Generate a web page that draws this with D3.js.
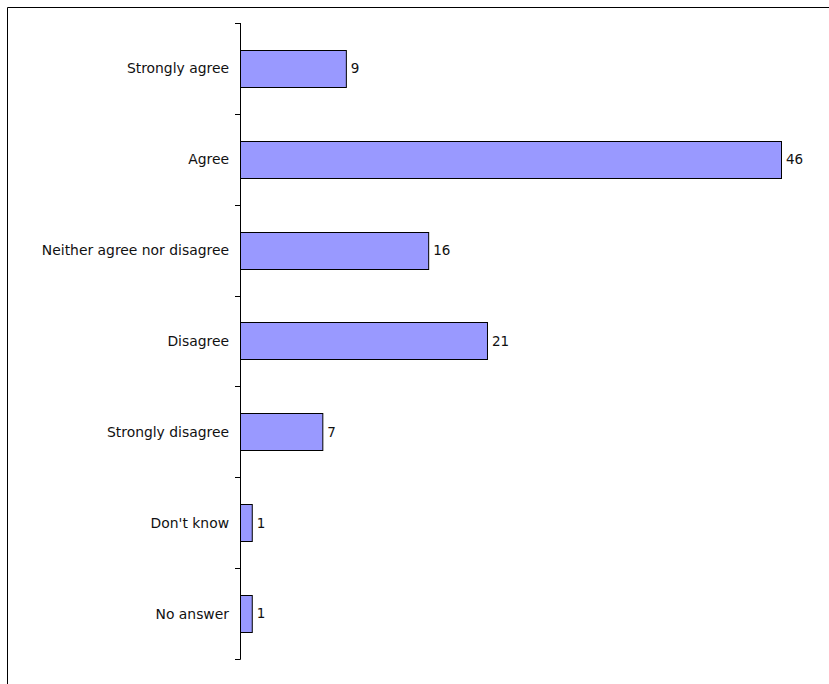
<!DOCTYPE html>
<html><head><meta charset="utf-8">
<script src="https://cdn.jsdelivr.net/npm/d3@7/dist/d3.min.js"></script>
<style>body{margin:0;background:#fff}svg{display:block}</style>
</head><body>
<script>
const categories = ["Strongly agree","Agree","Neither agree nor disagree","Disagree","Strongly disagree","Don't know","No answer"];
const values = [9,46,16,21,7,1,1];

const W = 829, H = 684;
const svg = d3.select("body").append("svg").attr("width", W).attr("height", H);
// frame
svg.append("path").attr("d", `M7.5,${H} V7.5 H${W}`).attr("fill","none").attr("stroke","#000").attr("stroke-width",1);

const x0 = 240, y0 = 23, y1 = 659;
const x = d3.scaleLinear().domain([0,46]).range([x0, 781]);
const y = d3.scaleBand().domain(categories).range([y0, y1]).paddingInner(0.59).paddingOuter(0.295);

const font = "'DejaVu Sans', sans-serif";
const g = svg.append("g");
// bars
g.selectAll("rect").data(categories).join("rect")
  .attr("x", x0 + 0.5)
  .attr("y", d => Math.round(y(d)) + 0.5)
  .attr("width", (d,i) => x(values[i]) - x0)
  .attr("height", Math.round(y.bandwidth()))
  .attr("fill", "#9999FF").attr("stroke", "#000").attr("stroke-width", 1);

// value labels
g.selectAll("text.v").data(categories).join("text").attr("class","v")
  .attr("x", (d,i) => x(values[i]) + 5)
  .attr("y", d => y(d) + y.bandwidth()/2)
  .attr("dy","0.36em")
  .attr("font-family", font).attr("font-size", 13.5).attr("fill","#111")
  .text((d,i) => values[i]);

// axis line and ticks at category boundaries
const step = (y1 - y0) / categories.length;
g.append("line").attr("x1", x0+0.5).attr("x2", x0+0.5).attr("y1", y0).attr("y2", y1+0.5).attr("stroke","#000");
const bounds = d3.range(categories.length + 1).map(i => y0 + i*step);
g.selectAll("line.t").data(bounds).join("line").attr("class","t")
  .attr("x1", x0-5).attr("x2", x0+0.5)
  .attr("y1", d => Math.round(d)+0.5).attr("y2", d => Math.round(d)+0.5)
  .attr("stroke","#000");

// category labels
g.selectAll("text.c").data(categories).join("text").attr("class","c")
  .attr("x", x0 - 11)
  .attr("y", d => y(d) + y.bandwidth()/2)
  .attr("dy","0.36em").attr("text-anchor","end")
  .attr("font-family", font).attr("font-size", 13.9).attr("fill","#111")
  .text(d => d);
</script>
</body></html>
